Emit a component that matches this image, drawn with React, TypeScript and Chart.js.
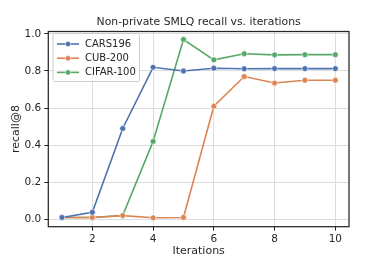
import React, { useEffect, useRef } from "react";
import { Chart, registerables } from "chart.js";

Chart.register(...registerables);

const iterations = [1, 2, 3, 4, 5, 6, 7, 8, 9, 10];
const cars196 = [0.01, 0.038, 0.49, 0.82, 0.8, 0.815, 0.812, 0.813, 0.813, 0.813];
const cub200 = [0.01, 0.01, 0.02, 0.008, 0.01, 0.61, 0.77, 0.735, 0.75, 0.75];
const cifar100 = [0.01, 0.01, 0.02, 0.42, 0.97, 0.86, 0.893, 0.887, 0.888, 0.888];
const seriesNames = ["CARS196", "CUB-200", "CIFAR-100"];
const seriesColors = ["#4c72b0", "#dd8452", "#55a868"];
const xTicks = [2, 4, 6, 8, 10];
const yTicks = [0, 0.2, 0.4, 0.6, 0.8, 1.0];
const titleText = "Non-private SMLQ recall vs. iterations";
const xTitle = "Iterations";
const yTitle = "recall@8";

const FONT = "DejaVu Sans";
const DARK = "#262626";

export default function App() {
  const ref = useRef<HTMLCanvasElement | null>(null);
  useEffect(() => {
    document.body.style.margin = "0";
    const ctx = ref.current!.getContext("2d")!;
    const all = [cars196, cub200, cifar100];
    const overlay = {
      id: "overlay",
      afterDraw(chart: any) {
        const c = chart.ctx;
        const a = chart.chartArea;
        c.save();
        // frame
        c.strokeStyle = DARK;
        c.lineWidth = 1.25;
        c.strokeRect(a.left, a.top, a.right - a.left, a.bottom - a.top);
        // title
        c.fillStyle = DARK;
        c.font = `10.8px "${FONT}"`;
        c.textAlign = "center";
        c.textBaseline = "middle";
        c.fillText(titleText, (a.left + a.right) / 2, 22);
        // x title
        c.font = `11px "${FONT}"`;
        c.fillText(xTitle, (a.left + a.right) / 2, 251.5);
        // y title
        c.save();
        c.translate(16, (a.top + a.bottom) / 2);
        c.rotate(-Math.PI / 2);
        c.textBaseline = "middle";
        c.fillText(yTitle, 0, 0);
        c.restore();
        // legend
        const lx = 53, ly = 33.5, lw = 86.5, lh = 48;
        c.fillStyle = "rgba(255,255,255,0.8)";
        c.strokeStyle = "#cccccc";
        c.lineWidth = 1;
        c.beginPath();
        if ((c as any).roundRect) (c as any).roundRect(lx, ly, lw, lh, 2);
        else c.rect(lx, ly, lw, lh);
        c.fill();
        c.stroke();
        chart.data.datasets.forEach((ds: any, i: number) => {
          const y = 44 + i * 14.2;
          c.strokeStyle = ds.borderColor;
          c.lineWidth = 1.6;
          c.beginPath();
          c.moveTo(57, y);
          c.lineTo(79, y);
          c.stroke();
          c.fillStyle = ds.borderColor;
          c.strokeStyle = "#ffffff";
          c.lineWidth = 0.6;
          c.beginPath();
          c.arc(68, y, 2.7, 0, Math.PI * 2);
          c.fill();
          c.stroke();
          c.fillStyle = DARK;
          c.textAlign = "left";
          c.textBaseline = "middle";
          c.font = `10px "${FONT}"`;
          c.fillText(ds.label, 85, y + 0.5);
        });
        c.restore();
      },
    };
    const chart = new Chart(ctx, {
      type: "line",
      data: {
        datasets: all.map((vals, i) => ({
          label: seriesNames[i],
          data: iterations.map((x, j) => ({ x, y: vals[j] })),
          borderColor: seriesColors[i],
          backgroundColor: seriesColors[i],
          pointBackgroundColor: seriesColors[i],
          pointBorderColor: "#ffffff",
          pointBorderWidth: 0.6,
          pointRadius: 2.9,
          borderWidth: 1.6,
          tension: 0,
          fill: false,
        })),
      },
      options: {
        animation: false,
        responsive: false,
        devicePixelRatio: 1,
        layout: { padding: { left: 0, top: 31.5, right: 39, bottom: 0 } },
        plugins: { legend: { display: false }, title: { display: false }, tooltip: { enabled: false } },
        scales: {
          x: {
            type: "linear",
            min: 0.55,
            max: 10.45,
            afterFit: (s: any) => { s.height = 32.3; },
            afterBuildTicks: (s: any) => { s.ticks = xTicks.map((v) => ({ value: v })); },
            ticks: { color: DARK, font: { family: FONT, size: 10.5 }, padding: 2, callback: (v: any) => String(v), maxRotation: 0 },
            grid: { color: "#dddddd", lineWidth: 1, tickColor: DARK, tickLength: 4, tickWidth: 1 },
            border: { display: false },
          },
          y: {
            type: "linear",
            min: -0.04,
            max: 1.013,
            afterFit: (s: any) => { s.width = 48.3; },
            afterBuildTicks: (s: any) => { s.ticks = yTicks.map((v) => ({ value: v })); },
            ticks: { color: DARK, font: { family: FONT, size: 10.5 }, padding: 3, callback: (v: any) => Number(v).toFixed(1) },
            grid: { color: "#dddddd", lineWidth: 1, tickColor: DARK, tickLength: 4, tickWidth: 1 },
            border: { display: false },
          },
        },
      },
      plugins: [overlay],
    });
    return () => chart.destroy();
  }, []);
  return <canvas ref={ref} width={388} height={259} style={{ display: "block", width: 388, height: 259 }} />;
}
